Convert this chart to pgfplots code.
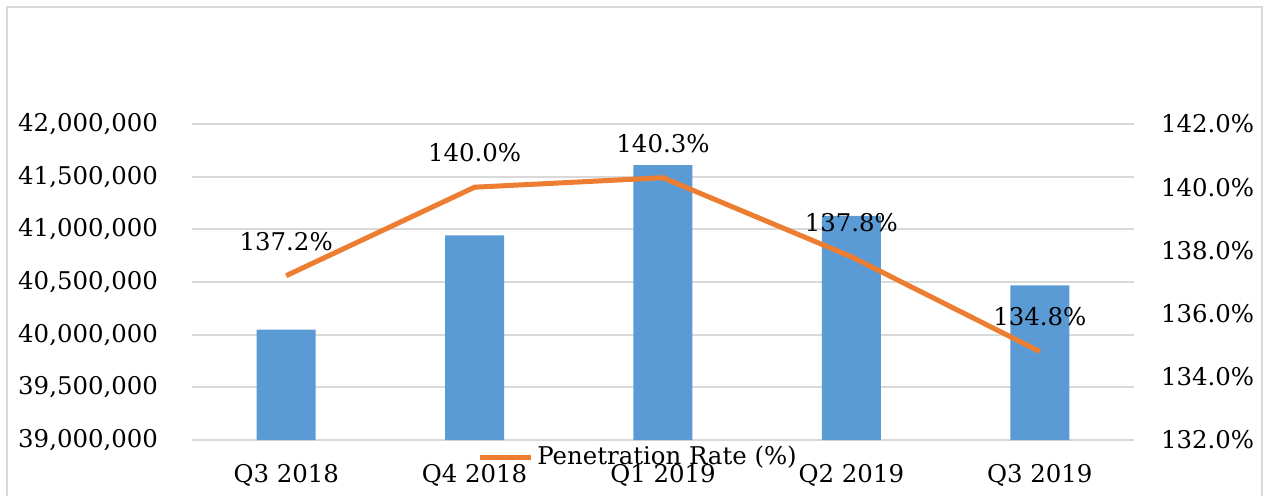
\documentclass[border=0pt]{standalone}
\usepackage{pgfplots}
\pgfplotsset{compat=1.18}
\usepackage{fontspec}
\setmainfont{DejaVu Serif}
\definecolor{barblue}{HTML}{5B9BD5}
\definecolor{lineor}{HTML}{ED7D31}
\definecolor{gridg}{HTML}{D9D9D9}
\newcommand{\cf}{\fontsize{12.2}{14}\selectfont}
\pgfplotsset{myax/.style={scale only axis, width=471pt, height=158pt,
  at={(96pt,27.5pt)}, anchor=south west, xmin=-0.5, xmax=4.5,
  axis line style={draw=none}, major tick length=0pt,
  tick label style={font=\cf},
  /pgf/number format/assume math mode=true}}
\begin{document}
\begin{tikzpicture}
\useasboundingbox (0,0) rectangle (635.5pt,247.5pt);
\draw[gridg, line width=1pt] (3.5pt,-20pt) rectangle (631pt,244pt);
\begin{axis}[myax,
  ymin=39000000, ymax=42000000,
  ytick={39000000,39500000,40000000,40500000,41000000,41500000,42000000},
  scaled y ticks=false,
  yticklabel style={/pgf/number format/fixed, /pgf/number format/1000 sep={,}, xshift=-13.5pt},
  ymajorgrids, grid style={gridg, line width=0.9pt},
  xtick={0,1,2,3,4},
  xticklabels={Q3 2018,Q4 2018,Q1 2019,Q2 2019,Q3 2019},
  xticklabel style={yshift=-8.5pt},
]
\addplot[ybar, bar width=29.5pt, bar shift=0pt, fill=barblue, draw=none]
  coordinates {(0,40048000) (1,40943000) (2,41610000) (3,41127000) (4,40467000)};
\end{axis}
\begin{axis}[myax,
  axis y line*=right, axis x line=none,
  ymin=132, ymax=142,
  ytick={132,134,136,138,140,142},
  yticklabel={\pgfmathprintnumber[fixed,fixed zerofill,precision=1]{\tick}\%},
  yticklabel style={xshift=10pt},
  legend style={draw=none, fill=none, at={(0.3025,-0.054)}, anchor=west,
    inner sep=0pt, font=\cf},
  legend image code/.code={\draw[#1, line width=2.5pt] (0pt,0pt) -- (25.5pt,0pt);},
]
\addplot[lineor, line width=2.5pt, mark=none,
  nodes near coords={\pgfmathprintnumber[fixed,fixed zerofill,precision=1]{\pgfplotspointmeta}\%},
  every node near coord/.append style={font=\cf, text=black, anchor=center, yshift=17.25pt}]
  coordinates {(0,137.2) (1,140.0) (2,140.3) (3,137.8) (4,134.8)};
\addlegendentry{Penetration Rate (\%)}
\end{axis}
\end{tikzpicture}
\end{document}
